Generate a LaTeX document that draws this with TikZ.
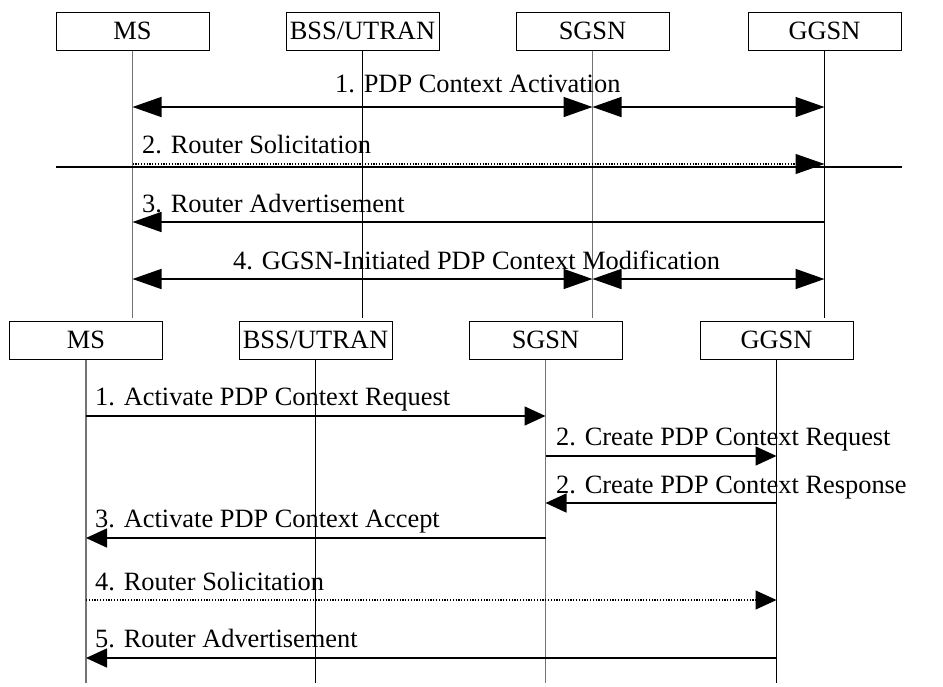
\documentclass[tikz,border=0pt]{standalone}
\usepackage{fontspec}
\setmainfont{Liberation Serif}
\usetikzlibrary{arrows.meta}
\begin{document}
\begin{tikzpicture}[x=1pt,y=-1pt,
  ent/.style={draw,line width=1pt,fill=white,minimum width=153pt,minimum height=38pt,inner sep=0pt,font=\fontsize{26.4}{30}\selectfont},
  lbl/.style={anchor=base west,inner sep=0pt,font=\fontsize{26.4}{30}\selectfont},
  lifeg/.style={draw=black!55,line width=1.4pt},
  lifek/.style={draw=black,line width=0.9pt},
  bigtip/.style={-{Triangle[length=29pt,width=20pt]}},
  bigboth/.style={{Triangle[length=29pt,width=20pt]}-{Triangle[length=29pt,width=20pt]}},
  smalltip/.style={-{Triangle[length=21pt,width=19pt]}},
  msg/.style={line width=1.5pt},
  dotmsg/.style={line width=1.1pt,dash pattern=on 1.2pt off 1.6pt}]
\useasboundingbox (0,0) rectangle (943,686);
% ---- upper diagram ----
\node[ent] (msA) at (132.5,31) {MS};
\node[ent] (bsA) at (362.5,31) {BSS/UTRAN};
\node[ent] (sgA) at (592.5,31) {SGSN};
\node[ent] (ggA) at (824.5,31) {GGSN};
\coordinate (endA) at (0,318);
\draw[lifeg] (msA.south) -- (msA.south |- endA);
\draw[lifek] (bsA.south) -- (bsA.south |- endA);
\draw[lifeg] (sgA.south) -- (sgA.south |- endA);
\draw[lifek] (ggA.south) -- (ggA.south |- endA);
\coordinate (a1) at (0,107);
\coordinate (a2) at (0,164);
\coordinate (a2b) at (0,167);
\coordinate (a3) at (0,222);
\coordinate (a4) at (0,279);
\draw[msg,bigboth] (msA.south |- a1) -- (sgA.south |- a1);
\draw[msg,bigboth] (sgA.south |- a1) -- (ggA.south |- a1);
\node[lbl] (la1) at (335,92) {1. PDP Context Activation};
\draw[dotmsg,bigtip] (msA.south |- a2) -- (ggA.south |- a2);
\draw[line width=1.1pt] (msA.west |- a2b) -- (ggA.east |- a2b);
\node[lbl] (la2) at (142,153) {2. Router Solicitation};
\draw[msg,bigtip] (ggA.south |- a3) -- (msA.south |- a3);
\node[lbl] (la3) at (142,212) {3. Router Advertisement};
\draw[msg,bigboth] (msA.south |- a4) -- (sgA.south |- a4);
\draw[msg,bigboth] (sgA.south |- a4) -- (ggA.south |- a4);
\node[lbl] (la4) at (233,269) {4. GGSN-Initiated PDP Context Modification};
% ---- lower diagram ----
\node[ent] (msB) at (86,340) {MS};
\node[ent] (bsB) at (315.5,340) {BSS/UTRAN};
\node[ent] (sgB) at (545.5,340) {SGSN};
\node[ent] (ggB) at (776.5,340) {GGSN};
\coordinate (endB) at (0,683);
\draw[lifeg] (msB.south) -- (msB.south |- endB);
\draw[lifek] (bsB.south) -- (bsB.south |- endB);
\draw[lifeg] (sgB.south) -- (sgB.south |- endB);
\draw[lifek] (ggB.south) -- (ggB.south |- endB);
\coordinate (b1) at (0,416);
\coordinate (b2) at (0,456);
\coordinate (b3) at (0,503);
\coordinate (b4) at (0,538);
\coordinate (b5) at (0,600);
\coordinate (b6) at (0,658);
\draw[msg,smalltip] (msB.south |- b1) -- (sgB.south |- b1);
\node[lbl] (lb1) at (95,405) {1. Activate PDP Context Request};
\draw[msg,smalltip] (sgB.south |- b2) -- (ggB.south |- b2);
\node[lbl] (lb2) at (556,445) {2. Create PDP Context Request};
\draw[msg,smalltip] (ggB.south |- b3) -- (sgB.south |- b3);
\node[lbl] (lb3) at (556,493) {2. Create PDP Context Response};
\draw[msg,smalltip] (sgB.south |- b4) -- (msB.south |- b4);
\node[lbl] (lb4) at (95,527) {3. Activate PDP Context Accept};
\draw[dotmsg,smalltip] (msB.south |- b5) -- (ggB.south |- b5);
\node[lbl] (lb5) at (95,590) {4. Router Solicitation};
\draw[msg,smalltip] (ggB.south |- b6) -- (msB.south |- b6);
\node[lbl] (lb6) at (95,647) {5. Router Advertisement};
\end{tikzpicture}
\end{document}
